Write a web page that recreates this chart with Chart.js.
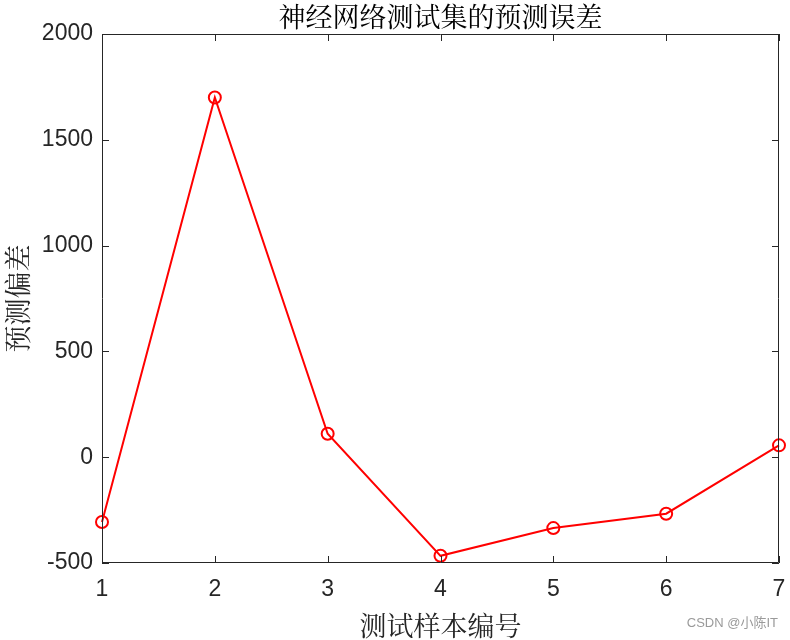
<!DOCTYPE html>
<html><head><meta charset="utf-8">
<script src="https://cdn.jsdelivr.net/npm/chart.js@4/dist/chart.umd.min.js"></script>
<style>html,body{margin:0;padding:0;background:#fff}#wrap{width:790px;height:640px;position:relative}</style>
</head><body><div id="wrap"><canvas id="c" width="790" height="640"></canvas></div>
<script>
const categories = ['1','2','3','4','5','6','7'];
const errorValues = [-306, 1700, 111, -466, -335, -267, 56];
const yTicks = [-500, 0, 500, 1000, 1500, 2000];
const titleText = '神经网络测试集的预测误差';
const xTitle = '测试样本编号';
const yTitle = '预测偏差';
const watermark = 'CSDN @小陈IT';

const axisColor = '#262626';
const cjkFont = '"Noto Serif CJK SC","Noto Sans CJK SC",serif';
const numFont = '"Liberation Sans", Arial, sans-serif';

const boxPlugin = {
  id: 'box',
  afterDraw(chart) {
    const ctx = chart.ctx, a = chart.chartArea;
    const xs = chart.scales.x, ys = chart.scales.y;
    ctx.save();
    ctx.strokeStyle = axisColor; ctx.lineWidth = 1;
    ctx.beginPath();
    ctx.rect(a.left + 0.5, a.top + 0.5, a.right - a.left - 1, a.bottom - a.top - 1);
    const tl = 7;
    categories.forEach((c, i) => {
      const x = Math.round(xs.getPixelForValue(i)) + 0.5;
      ctx.moveTo(x, a.bottom); ctx.lineTo(x, a.bottom - tl);
      ctx.moveTo(x, a.top); ctx.lineTo(x, a.top + tl);
    });
    yTicks.forEach(v => {
      const y = Math.round(ys.getPixelForValue(v)) + 0.5;
      ctx.moveTo(a.left, y); ctx.lineTo(a.left + tl, y);
      ctx.moveTo(a.right, y); ctx.lineTo(a.right - tl, y);
    });
    ctx.stroke();
    // title centred over the plot area
    ctx.fillStyle = '#000';
    ctx.font = '27px ' + cjkFont;
    ctx.textAlign = 'center'; ctx.textBaseline = 'middle';
    ctx.fillText(titleText, (a.left + a.right) / 2, 17);
    // watermark
    ctx.fillStyle = '#9a9a9a';
    ctx.font = '13px "Liberation Sans", Arial, "Noto Sans CJK SC", sans-serif';
    ctx.textAlign = 'right'; ctx.textBaseline = 'middle';
    ctx.fillText(watermark, 778, 623);
    ctx.restore();
  }
};

new Chart(document.getElementById('c'), {
  type: 'line',
  data: {
    labels: categories,
    datasets: [{
      data: errorValues,
      borderColor: '#ff0000',
      borderWidth: 2,
      backgroundColor: 'rgba(0,0,0,0)',
      pointStyle: 'circle',
      pointRadius: 6,
      pointBorderWidth: 2,
      pointBorderColor: '#ff0000',
      pointBackgroundColor: 'rgba(0,0,0,0)',
      tension: 0,
      clip: false
    }]
  },
  options: {
    responsive: false,
    animation: false,
    devicePixelRatio: 1,
    layout: { padding: { left: 0, right: 11, top: 34, bottom: 0 } },
    plugins: {
      legend: { display: false },
      tooltip: { enabled: false },
      title: { display: false }
    },
    scales: {
      x: {
        type: 'category', offset: false,
        grid: { display: false, drawTicks: false },
        border: { display: false },
        ticks: { color: axisColor, font: { family: numFont, size: 23 }, padding: 13, maxRotation: 0 },
        title: { display: true, text: xTitle, color: axisColor, font: { family: cjkFont, size: 27 }, padding: { top: 0, bottom: -2 } },
        afterFit(s) { s.height = 77; s.paddingLeft = 0; s.paddingRight = 0; }
      },
      y: {
        min: -500, max: 2000,
        afterBuildTicks(s) { s.ticks = yTicks.map(v => ({ value: v })); },
        grid: { display: false, drawTicks: false },
        border: { display: false },
        ticks: { color: axisColor, font: { family: numFont, size: 23 }, padding: 9, callback: v => String(v) },
        title: { display: true, text: yTitle, color: axisColor, font: { family: cjkFont, size: 27 }, padding: { top: 2, bottom: 3 } },
        afterFit(s) { s.width = 102; s.paddingTop = 0; s.paddingBottom = 0; }
      }
    }
  },
  plugins: [boxPlugin]
});
</script></body></html>
